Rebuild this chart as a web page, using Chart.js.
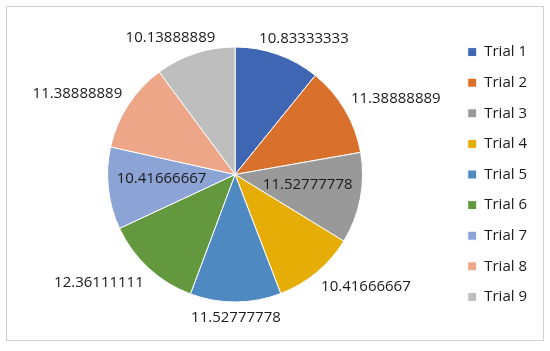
<!DOCTYPE html>
<html>
<head>
<meta charset="utf-8">
<script src="https://cdn.jsdelivr.net/npm/chart.js@4/dist/chart.umd.min.js"></script>
<style>
html,body{margin:0;padding:0;background:#fff;}
#wrap{position:relative;width:550px;height:351px;}
</style>
</head>
<body>
<div id="wrap"><canvas id="c" width="550" height="351"></canvas></div>
<script>
const categories = ["Trial 1","Trial 2","Trial 3","Trial 4","Trial 5","Trial 6","Trial 7","Trial 8","Trial 9"];
const values = [10.83333333, 11.38888889, 11.52777778, 10.41666667, 11.52777778, 12.36111111, 10.41666667, 11.38888889, 10.13888889];
const valueLabels = ["10.83333333","11.38888889","11.52777778","10.41666667","11.52777778","12.36111111","10.41666667","11.38888889","10.13888889"];
const colors = ["#3F66B2","#D9702B","#999999","#E5AD06","#4E89C2","#64983F","#8CA3D6","#EEA689","#BEBEBE"];
const labelPlacement = ["out","out","in","out","out","out","in","out","out"];

const FONT = "'Open Sans', 'Liberation Sans', sans-serif";

const borderPlugin = {
  id: 'frame',
  beforeDraw(chart) {
    const ctx = chart.ctx;
    ctx.save();
    ctx.fillStyle = '#ffffff';
    ctx.fillRect(0, 0, chart.width, chart.height);
    ctx.strokeStyle = '#D0D0D0';
    ctx.lineWidth = 1;
    ctx.strokeRect(6.5, 6.5, 537, 334);
    ctx.restore();
  }
};

const clamp1 = v => Math.max(-1, Math.min(1, v));

const labelPlugin = {
  id: 'valueLabels',
  afterDatasetsDraw(chart) {
    const ctx = chart.ctx;
    const meta = chart.getDatasetMeta(0);
    ctx.save();
    ctx.font = "15px " + FONT;
    ctx.fillStyle = '#1a1a1a';
    ctx.textAlign = 'center';
    ctx.textBaseline = 'middle';
    meta.data.forEach((arc, i) => {
      const p = arc.getProps(['x','y','startAngle','endAngle','outerRadius'], true);
      const mid = (p.startAngle + p.endAngle) / 2;
      const cx = Math.cos(mid), sy = Math.sin(mid);
      const txt = valueLabels[i];
      const w = ctx.measureText(txt).width;
      const h = 18;
      let x, y;
      if (labelPlacement[i] === 'in') {
        const r = p.outerRadius * 0.58;
        x = p.x + cx * r; y = p.y + sy * r - 4;
      } else {
        const r = p.outerRadius + 7;
        x = p.x + cx * r + clamp1(cx * 1.6) * w / 2;
        y = p.y + sy * r + clamp1(sy * 1.6) * h / 2;
      }
      ctx.fillText(txt, x, y);
    });
    ctx.restore();
  }
};

new Chart(document.getElementById('c'), {
  type: 'pie',
  data: {
    labels: categories,
    datasets: [{
      data: values,
      backgroundColor: colors,
      borderColor: '#ffffff',
      borderWidth: 1,
      radius: 127.5
    }]
  },
  options: {
    responsive: false,
    animation: false,
    layout: { padding: { left: 18, right: 13, top: 0, bottom: 2 } },
    plugins: {
      tooltip: { enabled: false },
      legend: {
        position: 'right',
        labels: {
          boxWidth: 9,
          boxHeight: 9,
          padding: 15.6,
          color: '#1a1a1a',
          font: { size: 15, family: FONT }
        }
      }
    }
  },
  plugins: [borderPlugin, labelPlugin]
});
</script>
</body>
</html>
